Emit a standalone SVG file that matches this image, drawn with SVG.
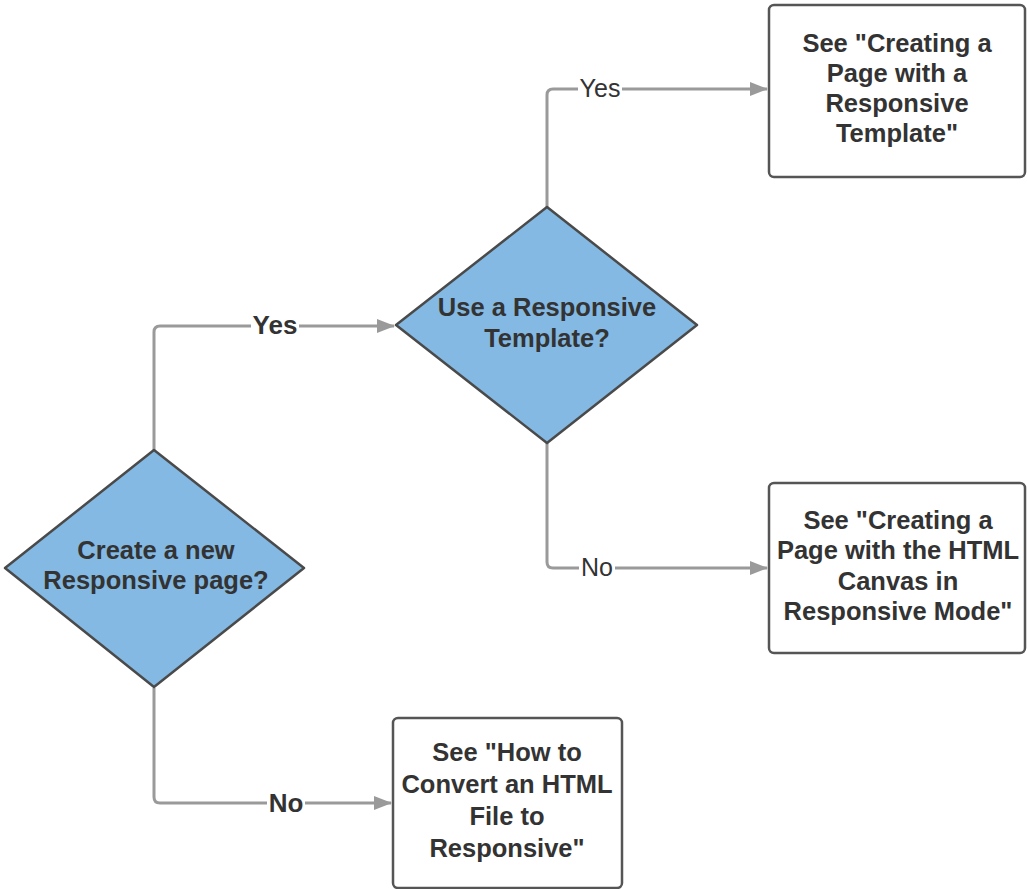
<svg xmlns="http://www.w3.org/2000/svg" width="1027" height="889" viewBox="0 0 1027 889">
<style>
.bg{fill:#ffffff}
.dec{fill:#83b9e3;stroke:#4a4a4a;stroke-width:2.5;stroke-linejoin:round}
.box{fill:#ffffff;stroke:#555555;stroke-width:2.5}
.t{font-family:"Liberation Sans",Arial,sans-serif;font-weight:bold;font-size:25.5px;fill:#333333;text-anchor:middle}
.edge{fill:none;stroke:#9a9a9a;stroke-width:3}
.lbl{font-family:"Liberation Sans",Arial,sans-serif;font-size:25px;fill:#333333;text-anchor:middle}
.lblb{font-weight:bold;font-size:26px}
.lbg{fill:#ffffff}
</style>
<defs>
<marker id="arr" markerWidth="18" markerHeight="14" refX="17" refY="7" orient="auto" markerUnits="userSpaceOnUse">
<path d="M0,0 L18,7 L0,14 Z" fill="#9a9a9a"/>
</marker>
</defs>
<rect class="bg" x="0" y="0" width="1027" height="889"/>
<g id="connectors">
<path class="edge" d="M154,450 V332 Q154,326 160,326 H394" marker-end="url(#arr)"/>
<rect class="lbg" x="251" y="312" width="48" height="28"/>
<text class="lbl lblb" x="275" y="334">Yes</text>
<path class="edge" d="M154,688 V797 Q154,803 160,803 H391" marker-end="url(#arr)"/>
<rect class="lbg" x="267" y="789" width="38" height="28"/>
<text class="lbl lblb" x="286" y="812">No</text>
<path class="edge" d="M547,207 V95 Q547,89 553,89 H767" marker-end="url(#arr)"/>
<rect class="lbg" x="578" y="75" width="44" height="28"/>
<text class="lbl" x="600" y="97">Yes</text>
<path class="edge" d="M547,443 V562 Q547,568 553,568 H767" marker-end="url(#arr)"/>
<rect class="lbg" x="579" y="554" width="36" height="28"/>
<text class="lbl" x="597" y="576">No</text>
</g>
<g id="d1">
<path class="dec" d="M154,450 L304,568 L154,687 L5,568 Z"/>
<text class="t" x="156" y="559">Create a new</text>
<text class="t" x="156" y="589">Responsive page?</text>
</g>
<g id="d2">
<path class="dec" d="M547,207 L697,325 L547,443 L396,325 Z"/>
<text class="t" x="547" y="316">Use a Responsive</text>
<text class="t" x="547" y="347">Template?</text>
</g>
<g id="b1">
<rect class="box" x="769" y="5" width="256" height="172" rx="5"/>
<text class="t" x="897" y="52">See "Creating a</text>
<text class="t" x="897" y="82">Page with a</text>
<text class="t" x="897" y="112">Responsive</text>
<text class="t" x="897" y="142">Template"</text>
</g>
<g id="b2">
<rect class="box" x="769" y="483" width="256" height="170" rx="5"/>
<text class="t" x="898" y="529">See "Creating a</text>
<text class="t" x="898" y="559">Page with the HTML</text>
<text class="t" x="898" y="590">Canvas in</text>
<text class="t" x="898" y="620">Responsive Mode"</text>
</g>
<g id="b3">
<rect class="box" x="393" y="718" width="229" height="170" rx="5"/>
<text class="t" x="507" y="761">See "How to</text>
<text class="t" x="507" y="793">Convert an HTML</text>
<text class="t" x="507" y="825">File to</text>
<text class="t" x="507" y="857">Responsive"</text>
</g>
</svg>
